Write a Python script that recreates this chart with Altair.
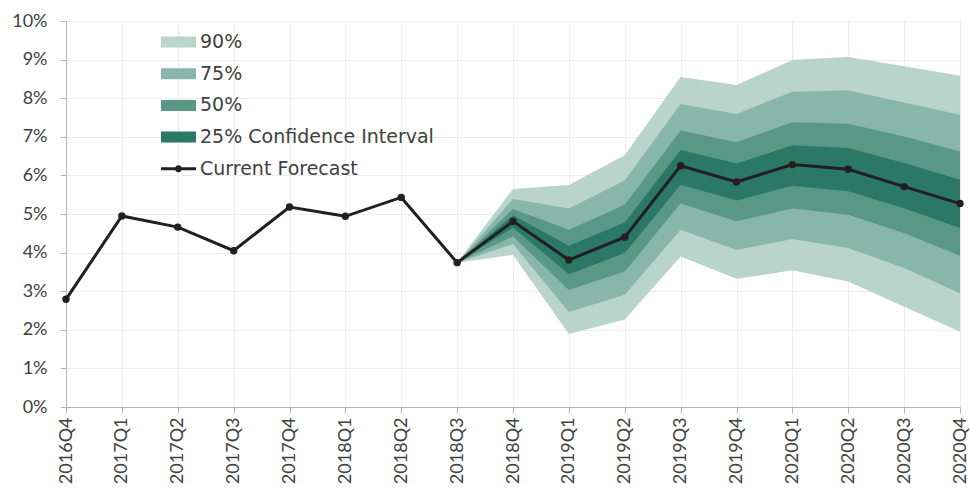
import altair as alt
import pandas as pd

quarters = ["2016Q4", "2017Q1", "2017Q2", "2017Q3", "2017Q4", "2018Q1", "2018Q2", "2018Q3",
            "2018Q4", "2019Q1", "2019Q2", "2019Q3", "2019Q4", "2020Q1", "2020Q2", "2020Q3", "2020Q4"]
forecast = [2.79, 4.95, 4.66, 4.05, 5.18, 4.94, 5.43, 3.74,
            4.81, 3.81, 4.40, 6.25, 5.83, 6.28, 6.16, 5.71, 5.27]

fan_quarters = ["2018Q3", "2018Q4", "2019Q1", "2019Q2", "2019Q3", "2019Q4", "2020Q1", "2020Q2", "2020Q3", "2020Q4"]
hi90 = [3.74, 5.65, 5.75, 6.52, 8.55, 8.34, 8.99, 9.07, 8.83, 8.58]
lo90 = [3.74, 3.94, 1.89, 2.27, 3.90, 3.32, 3.54, 3.25, 2.60, 1.95]
hi75 = [3.74, 5.39, 5.14, 5.87, 7.85, 7.59, 8.17, 8.20, 7.89, 7.57]
lo75 = [3.74, 4.22, 2.46, 2.91, 4.59, 4.07, 4.35, 4.12, 3.60, 2.95]
hi50 = [3.74, 5.13, 4.59, 5.24, 7.16, 6.86, 7.38, 7.34, 7.01, 6.62]
lo50 = [3.74, 4.42, 3.03, 3.51, 5.27, 4.81, 5.14, 4.98, 4.51, 3.92]
hi25 = [3.74, 4.97, 4.18, 4.78, 6.66, 6.31, 6.78, 6.71, 6.32, 5.89]
lo25 = [3.74, 4.65, 3.44, 3.99, 5.76, 5.35, 5.73, 5.59, 5.15, 4.64]

legend_names = ["90%", "75%", "50%", "25% Confidence Interval", "Current Forecast"]
legend_colors = ["#b8d4cb", "#88b6a8", "#5a9886", "#2a7865", "#231f20"]

rows = []
for name, lo, hi in [(legend_names[0], lo90, hi90), (legend_names[1], lo75, hi75),
                     (legend_names[2], lo50, hi50), (legend_names[3], lo25, hi25)]:
    for q, l, h in zip(fan_quarters, lo, hi):
        rows.append({"quarter": q, "band": name, "lo": l / 100, "hi": h / 100})
bands = pd.DataFrame(rows)
line_df = pd.DataFrame({"quarter": quarters, "value": [v / 100 for v in forecast]})

FONT = "Lato"
LEG_FONT = "DejaVu Sans"
TXT = "#404040"

rect_path = "M-1,-0.55H2.5V0.55H-1Z"
line_path = "M-1,-0.15H2.5V0.15H-1Z M0.4,0A0.35,0.35 0 1,1 1.1,0A0.35,0.35 0 1,1 0.4,0Z"
shape_expr = "datum.value === 'Current Forecast' ? '" + line_path + "' : '" + rect_path + "'"

x_enc = alt.X("quarter:N", sort=quarters, scale=alt.Scale(domain=quarters, type="point", padding=0),
              axis=alt.Axis(title=None, labelAngle=-90, labelFontSize=18, labelFont=FONT, labelColor=TXT,
                            grid=True, gridColor="#ececec", domainColor="#b5b5b5", tickColor="#b5b5b5",
                            tickSize=6, labelPadding=4, labelAlign="right", labelBaseline="middle"))
y_scale = alt.Scale(domain=[0, 0.1], nice=False)
y_axis = alt.Axis(title=None, format=".0%", values=[i / 100 for i in range(11)], labelFontSize=18,
                  labelFont=FONT, labelColor=TXT, grid=True, gridColor="#ececec", domainColor="#b5b5b5",
                  tickColor="#b5b5b5", tickSize=6, labelPadding=13)

color_enc = alt.Color("band:N", scale=alt.Scale(domain=legend_names, range=legend_colors),
                      legend=alt.Legend(title=None, orient="none", legendX=94, legendY=10,
                                        symbolType=alt.ExprRef(shape_expr), symbolSize=400, symbolOpacity=1,
                                        labelFont=LEG_FONT, labelFontSize=19, labelColor=TXT,
                                        labelOffset=18, rowPadding=10.7, labelLimit=400))

layers = []
for i, name in enumerate(legend_names[:4]):
    layers.append(
        alt.Chart(bands).transform_filter(alt.datum.band == name).mark_area(opacity=1).encode(
            x=x_enc,
            y=alt.Y("lo:Q", scale=y_scale, axis=y_axis),
            y2="hi:Q",
            color=color_enc,
        )
    )

line = alt.Chart(line_df).mark_line(color="#231f20", strokeWidth=3,
                                     point=alt.OverlayMarkDef(color="#231f20", size=55, filled=True, opacity=1)).encode(
    x=x_enc,
    y=alt.Y("value:Q", scale=y_scale, axis=y_axis),
)

chart = alt.layer(*layers, line).properties(
    width=894, height=386,
    autosize=alt.AutoSizeParams(type="none"),
    padding={"left": 66, "top": 21, "right": 10, "bottom": 86},
).configure_view(stroke=None).configure(background="white")

chart.save("out.html", embed_options={"renderer": "svg", "actions": False})
